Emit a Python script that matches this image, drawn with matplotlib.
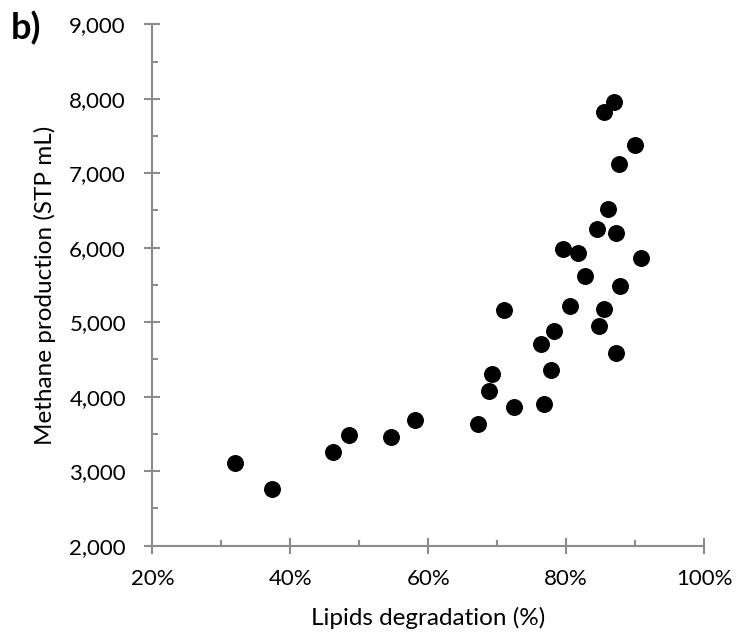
import matplotlib
matplotlib.use("Agg")
import matplotlib.pyplot as plt
from matplotlib.ticker import MultipleLocator, FuncFormatter

plt.rcParams['font.family'] = ['Lato', 'DejaVu Sans']

# lipids degradation (%) and methane production (STP mL)
lipids_deg = [87.0, 85.5, 90.0, 87.7, 86.1, 84.5, 87.2, 79.5, 81.7, 90.8,
              82.8, 87.8, 71.0, 80.6, 85.5, 84.8, 78.3, 76.3, 87.3, 69.3,
              77.8, 68.8, 72.5, 76.8, 67.2, 32.0, 37.3, 46.2, 48.5, 54.6, 58.1]
methane = [7952, 7826, 7379, 7124, 6520, 6248, 6194, 5987, 5933, 5858,
           5621, 5486, 5168, 5214, 5182, 4953, 4882, 4712, 4587, 4309,
           4355, 4073, 3862, 3898, 3634, 3114, 2757, 3262, 3490, 3455, 3683]

axis_grey = '#8c8c8c'

fig = plt.figure(figsize=(7.37, 6.34), dpi=100)
ax = fig.add_axes([0.2067, 0.1393, 0.9552 - 0.2067, 0.9617 - 0.1393])

ax.scatter(lipids_deg, methane, s=125, color='black', zorder=3, clip_on=False)

ax.set_xlim(20, 100)
ax.set_ylim(2000, 9000)
ax.xaxis.set_major_locator(MultipleLocator(20))
ax.xaxis.set_minor_locator(MultipleLocator(10))
ax.yaxis.set_major_locator(MultipleLocator(1000))
ax.yaxis.set_minor_locator(MultipleLocator(500))
ax.xaxis.set_major_formatter(FuncFormatter(lambda v, p: f"{v:.0f}%"))
ax.yaxis.set_major_formatter(FuncFormatter(lambda v, p: f"{v:,.0f}"))

for side in ('top', 'right'):
    ax.spines[side].set_visible(False)
for side in ('left', 'bottom'):
    ax.spines[side].set_color(axis_grey)
    ax.spines[side].set_linewidth(1.5)

ax.tick_params(which='major', direction='inout', length=12, width=1.5,
               color=axis_grey, labelsize=16, pad=11)
ax.tick_params(axis='y', which='major', pad=13)
ax.tick_params(which='minor', direction='in', length=4.5, width=1.5,
               color=axis_grey)

ax.set_xlabel('Lipids degradation (%)', fontsize=17.5)
ax.set_ylabel('Methane production (STP mL)', fontsize=17.5)
ax.xaxis.set_label_coords(0.5, -0.118)
ax.yaxis.set_label_coords(-0.175, 0.5)

fig.text(0.015, 0.955, 'b)', fontsize=26, fontweight='bold', va='center')

fig.savefig('out.png', dpi=100)
